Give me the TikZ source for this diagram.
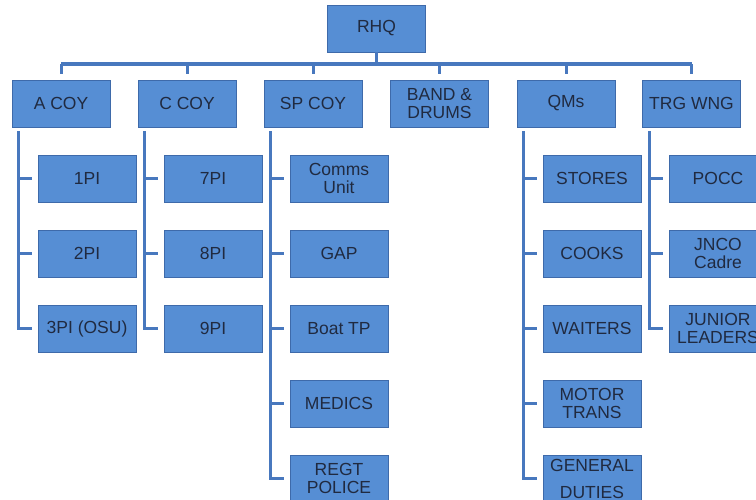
\documentclass[tikz,border=0pt]{standalone}
\usepackage{fontspec}
\setmainfont{Liberation Sans}
\usetikzlibrary{calc}
\definecolor{boxfill}{RGB}{86,142,212}
\definecolor{boxedge}{RGB}{62,106,170}
\definecolor{linecol}{RGB}{72,120,190}
\definecolor{txt}{RGB}{32,42,64}
\tikzset{
  unit/.style={rectangle, fill=boxfill, draw=boxedge, line width=0.8pt,
    minimum width=98pt, minimum height=47pt, inner sep=0pt, align=center,
    text=txt, font=\fontsize{17.5}{18}\selectfont},
  busline/.style={draw=linecol, line width=4pt},
  conn/.style={draw=linecol, line width=3pt},
}
\begin{document}
\begin{tikzpicture}[x=1pt,y=-1pt]
\useasboundingbox (0,0) rectangle (756,499);
% top
\node[unit] (rhq) at (376.5,28.5) {RHQ};
\node[unit] (a)   at (61,103.5)  {A COY};
\node[unit] (c)   at (187,103.5) {C COY};
\node[unit] (sp)  at (313,103.5) {SP COY};
\node[unit] (bd)  at (439.5,103.5) {BAND \&\\DRUMS};
\node[unit] (qm)  at (566,103.5) {QMs};
\node[unit] (trg) at (691.5,103.5) {TRG WNG};
% A COY
\node[unit] (a1) at (87,178.5) {1PI};
\node[unit] (a2) at (87,253.5) {2PI};
\node[unit] (a3) at (87,328.5) {3PI (OSU)};
% C COY
\node[unit] (c1) at (213,178.5) {7PI};
\node[unit] (c2) at (213,253.5) {8PI};
\node[unit] (c3) at (213,328.5) {9PI};
% SP COY
\node[unit] (s1) at (339,178.5) {Comms\\Unit};
\node[unit] (s2) at (339,253.5) {GAP};
\node[unit] (s3) at (339,328.5) {Boat TP};
\node[unit] (s4) at (339,403.5) {MEDICS};
\node[unit] (s5) at (339,478.5) {REGT\\POLICE};
% QMs
\node[unit] (q1) at (592,178.5) {STORES};
\node[unit] (q2) at (592,253.5) {COOKS};
\node[unit] (q3) at (592,328.5) {WAITERS};
\node[unit] (q4) at (592,403.5) {MOTOR\\TRANS};
\node[unit] (q5) at (592,478.5) {GENERAL\\[9pt]DUTIES};
% TRG WNG
\node[unit] (t1) at (718,178.5) {POCC};
\node[unit] (t2) at (718,253.5) {JNCO\\Cadre};
\node[unit] (t3) at (718,328.5) {JUNIOR\\LEADERS};

% bus
\coordinate (busc) at ([yshift=-12pt]rhq.south);
\draw[conn] (rhq.south) -- (busc);
\draw[busline] (a.north |- busc) -- (trg.north |- busc);
\foreach \p in {a,c,sp,bd,qm,trg}{
  \draw[conn] (\p.north |- busc) -- ([yshift=6pt]\p.north);
}
% spines
\foreach \p/\kids/\last in {a/{a1,a2}/a3, c/{c1,c2}/c3, sp/{s1,s2,s3,s4}/s5, qm/{q1,q2,q3,q4}/q5, trg/{t1,t2}/t3}{
  \coordinate (\p sp) at ([xshift=7pt,yshift=-4pt]\p.south west);
  \draw[conn] (\p sp) |- ([xshift=-6pt]\last.west);
  \foreach \k in \kids {
    \draw[conn] (\p sp |- \k.west) -- ([xshift=-6pt]\k.west);
  }
}
\end{tikzpicture}
\end{document}
